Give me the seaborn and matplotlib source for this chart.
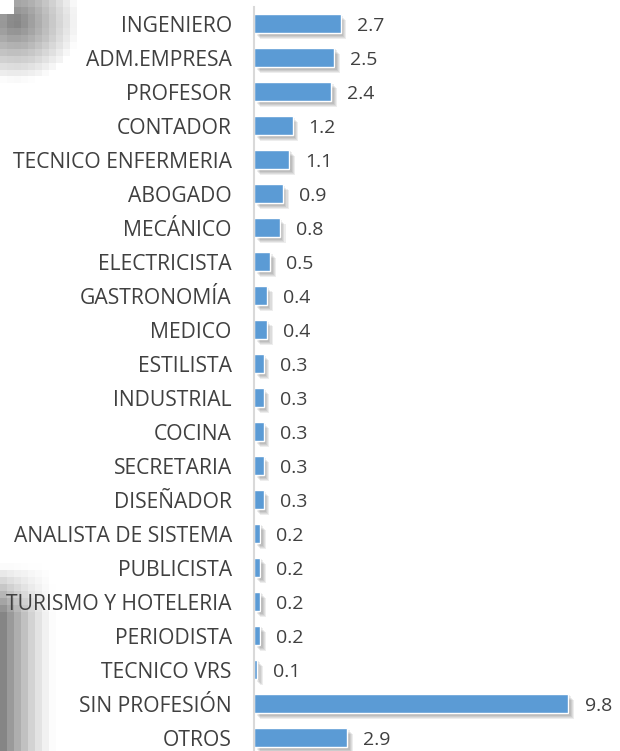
import numpy as np
import pandas as pd
import seaborn as sns
import matplotlib
matplotlib.use("Agg")
import matplotlib.pyplot as plt
import matplotlib.patheffects as pe

profesiones = [
    "INGENIERO", "ADM.EMPRESA", "PROFESOR", "CONTADOR", "TECNICO ENFERMERIA",
    "ABOGADO", "MECÁNICO", "ELECTRICISTA", "GASTRONOMÍA", "MEDICO", "ESTILISTA",
    "INDUSTRIAL", "COCINA", "SECRETARIA", "DISEÑADOR", "ANALISTA DE SISTEMA",
    "PUBLICISTA", "TURISMO Y HOTELERIA", "PERIODISTA", "TECNICO VRS",
    "SIN PROFESIÓN", "OTROS",
]
porcentajes = [2.7, 2.5, 2.4, 1.2, 1.1, 0.9, 0.8, 0.5, 0.4, 0.4, 0.3,
               0.3, 0.3, 0.3, 0.3, 0.2, 0.2, 0.2, 0.2, 0.1, 9.8, 2.9]

df = pd.DataFrame({"profesion": profesiones, "valor": porcentajes})

sns.set_theme(style="white")
plt.rcParams["font.family"] = ["Open Sans", "DejaVu Sans"]

fig = plt.figure(figsize=(6.2, 7.51), dpi=100)

# decorative gray gradient in the left corners (pixel blocks)
bg = fig.add_axes([0, 0, 1, 1], zorder=-1)
bg.set_axis_off()
h, w = 751, 620
yy, xx = np.mgrid[0:h:7, 0:w:7]
top = np.clip(1 - np.hypot((xx - 12) / 65.0, (yy - 18) / 62.0), 0, 1) * 0.5
top[(xx < 8) & (yy < 10)] = 0
bottom = np.clip(1 - xx / 52.0, 0, 1) ** 1.3 * np.clip((yy - 565) / 50.0, 0, 1) * 0.48
shade = np.maximum(top, bottom)
bg.imshow(1 - shade, cmap="gray", vmin=0, vmax=1, extent=[0, w, h, 0],
          interpolation="nearest", aspect="auto")
bg.set_xlim(0, w)
bg.set_ylim(h, 0)

ax = fig.add_axes([254 / 620, -3.5 / 751, 353 / 620, 748 / 751])
ax.patch.set_alpha(0)
sns.barplot(data=df, x="valor", y="profesion", color="#5B9BD5",
            width=0.56, saturation=1, ax=ax)

# soft drop shadow to the lower right
shadow = [pe.SimplePatchShadow(offset=(d, -d), shadow_rgbFace="#000000", alpha=0.07)
          for d in (1, 1.8, 2.6, 3.4, 4.2)]
for bar in ax.patches:
    bar.set_path_effects(shadow + [pe.Normal()])

for i, v in enumerate(porcentajes):
    ax.text(v + 0.5, i + 0.06, f"{v:.1f}", va="center", ha="left",
            fontsize=14, color="#404040")

ax.set_xlim(0, 11)
ax.set_ylim(21.5, -0.5)
ax.set_xlabel("")
ax.set_ylabel("")
ax.set_xticks([])
ax.tick_params(axis="y", length=0, pad=16, labelsize=15.2, labelcolor="#404040")
for s in ["top", "right", "bottom"]:
    ax.spines[s].set_visible(False)
ax.spines["left"].set_color("#d9d9d9")
ax.spines["left"].set_linewidth(1.5)

fig.savefig("out.png", dpi=100)
